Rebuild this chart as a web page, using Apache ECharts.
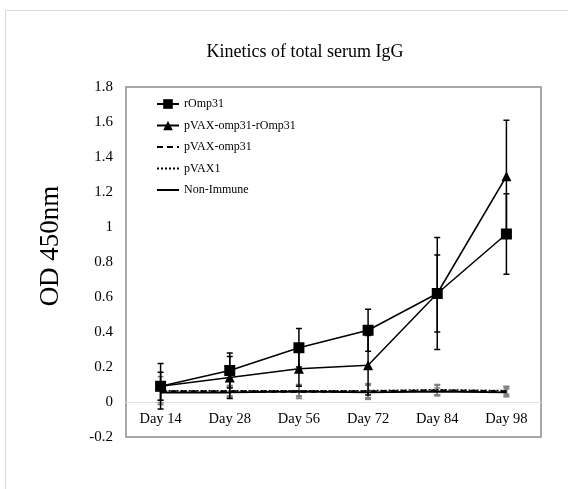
<!DOCTYPE html>
<html>
<head>
<meta charset="utf-8">
<script src="https://cdn.jsdelivr.net/npm/echarts@6/dist/echarts.min.js"></script>
<style>html,body{margin:0;padding:0;background:#fff;}#c{width:568px;height:489px;}</style>
</head>
<body>
<div id="c"></div>
<script>
const categories = ['Day 14','Day 28','Day 56','Day 72','Day 84','Day 98'];
const rOmp31 = [0.09, 0.18, 0.31, 0.41, 0.62, 0.96];
const rOmp31Err = [0.13, 0.10, 0.11, 0.12, 0.32, 0.23];
const combo = [0.09, 0.14, 0.19, 0.21, 0.62, 1.29];
const comboErr = [0.08, 0.12, 0.10, 0.17, 0.22, 0.32];
const pvaxOmp = [0.06, 0.06, 0.06, 0.06, 0.065, 0.06];
const pvaxOmpErr = [0.05, 0.03, 0.04, 0.04, 0.03, 0.03];
const pvax1 = [0.065, 0.065, 0.065, 0.065, 0.07, 0.065];
const pvax1Err = [0.08, 0.03, 0.03, 0.04, 0.03, 0.02];
const nonImmune = [0.055, 0.055, 0.06, 0.055, 0.06, 0.055];
const nonImmuneErr = [0.06, 0.03, 0.03, 0.04, 0.02, 0.02];
const yTicks = { min: -0.2, max: 1.8, interval: 0.2 };

const FONT = '"Liberation Serif", "DejaVu Serif", serif';

function errData(vals, errs) {
  return vals.map((v, i) => [i, v - errs[i], v + errs[i]]);
}
function errSeries(vals, errs, color, width) {
  return {
    type: 'custom',
    silent: true,
    z: 3,
    renderItem: function (params, api) {
      const x = api.value(0);
      const lo = api.coord([x, api.value(1)]);
      const hi = api.coord([x, api.value(2)]);
      const cap = 3;
      const st = { stroke: color, lineWidth: width };
      return {
        type: 'group',
        children: [
          { type: 'line', shape: { x1: lo[0], y1: lo[1], x2: hi[0], y2: hi[1] }, style: st },
          { type: 'line', shape: { x1: lo[0] - cap, y1: lo[1], x2: lo[0] + cap, y2: lo[1] }, style: st },
          { type: 'line', shape: { x1: hi[0] - cap, y1: hi[1], x2: hi[0] + cap, y2: hi[1] }, style: st }
        ]
      };
    },
    encode: { x: 0, y: [1, 2] },
    data: errData(vals, errs),
    tooltip: { show: false }
  };
}
const CLEAR = 'rgba(0,0,0,0)';

const chart = echarts.init(document.getElementById('c'), null, { renderer: 'canvas' });
chart.setOption({
  animation: false,
  backgroundColor: '#fff',
  textStyle: { fontFamily: FONT },
  graphic: [{
    type: 'rect',
    shape: { x: 5.5, y: 10.5, width: 700, height: 700 },
    style: { fill: 'none', stroke: '#d9d9d9', lineWidth: 1 },
    silent: true
  }],
  title: {
    text: 'Kinetics of total serum IgG',
    left: 300, top: 38, textAlign: 'center',
    textStyle: { fontFamily: FONT, fontSize: 18, fontWeight: 'normal', color: '#000' }
  },
  legend: {
    orient: 'vertical',
    left: 151, top: 93,
    itemWidth: 22, itemHeight: 12, itemGap: 9.5,
    textStyle: { fontFamily: FONT, fontSize: 12, color: '#000' },
    data: ['rOmp31', 'pVAX-omp31-rOmp31', 'pVAX-omp31', 'pVAX1', 'Non-Immune']
  },
  grid: { left: 126, right: 27, top: 87, bottom: 52, show: true, borderColor: '#8c8c8c', borderWidth: 1.5, backgroundColor: 'transparent' },
  xAxis: {
    type: 'category',
    data: categories,
    boundaryGap: true,
    axisLine: { onZero: true, lineStyle: { color: '#e0e0e0', width: 1 } },
    axisTick: { show: false },
    axisLabel: { fontFamily: FONT, fontSize: 14.5, color: '#000', margin: -25 },
    splitLine: { show: false }
  },
  yAxis: {
    type: 'value',
    min: yTicks.min, max: yTicks.max, interval: yTicks.interval,
    name: 'OD 450nm',
    nameLocation: 'middle',
    nameGap: 62,
    nameTextStyle: { fontFamily: FONT, fontSize: 27, color: '#000', padding: [0, 0, 0, 32] },
    axisLine: { show: false },
    axisTick: { show: false },
    splitLine: { show: false },
    axisLabel: { fontFamily: FONT, fontSize: 15, color: '#000', margin: 13,
      formatter: v => String(+(+v).toFixed(1)) }
  },
  series: [
    errSeries(pvaxOmp, pvaxOmpErr, '#7f7f7f', 1.5),
    errSeries(pvax1, pvax1Err, '#7f7f7f', 1.5),
    errSeries(nonImmune, nonImmuneErr, '#7f7f7f', 1.5),
    { name: 'pVAX-omp31', type: 'line', data: pvaxOmp, symbol: 'circle', showSymbol: false, z: 4,
      lineStyle: { color: '#000', width: 2.5, type: [6, 4] }, itemStyle: { color: CLEAR } },
    { name: 'pVAX1', type: 'line', data: pvax1, symbol: 'circle', showSymbol: false, z: 4,
      lineStyle: { color: '#000', width: 1.5, type: [2, 2] }, itemStyle: { color: CLEAR } },
    { name: 'Non-Immune', type: 'line', data: nonImmune, symbol: 'circle', showSymbol: false, z: 4,
      lineStyle: { color: '#000', width: 2 }, itemStyle: { color: CLEAR } },
    errSeries(rOmp31, rOmp31Err, '#000', 1.5),
    errSeries(combo, comboErr, '#000', 1.5),
    { name: 'rOmp31', type: 'line', data: rOmp31, symbol: 'rect', symbolSize: 11, z: 5,
      lineStyle: { color: '#000', width: 1.5 }, itemStyle: { color: '#000' } },
    { name: 'pVAX-omp31-rOmp31', type: 'line', data: combo, symbol: 'triangle', symbolSize: 10, z: 5,
      lineStyle: { color: '#000', width: 1.5 }, itemStyle: { color: '#000' } }
  ]
});
</script>
</body>
</html>
